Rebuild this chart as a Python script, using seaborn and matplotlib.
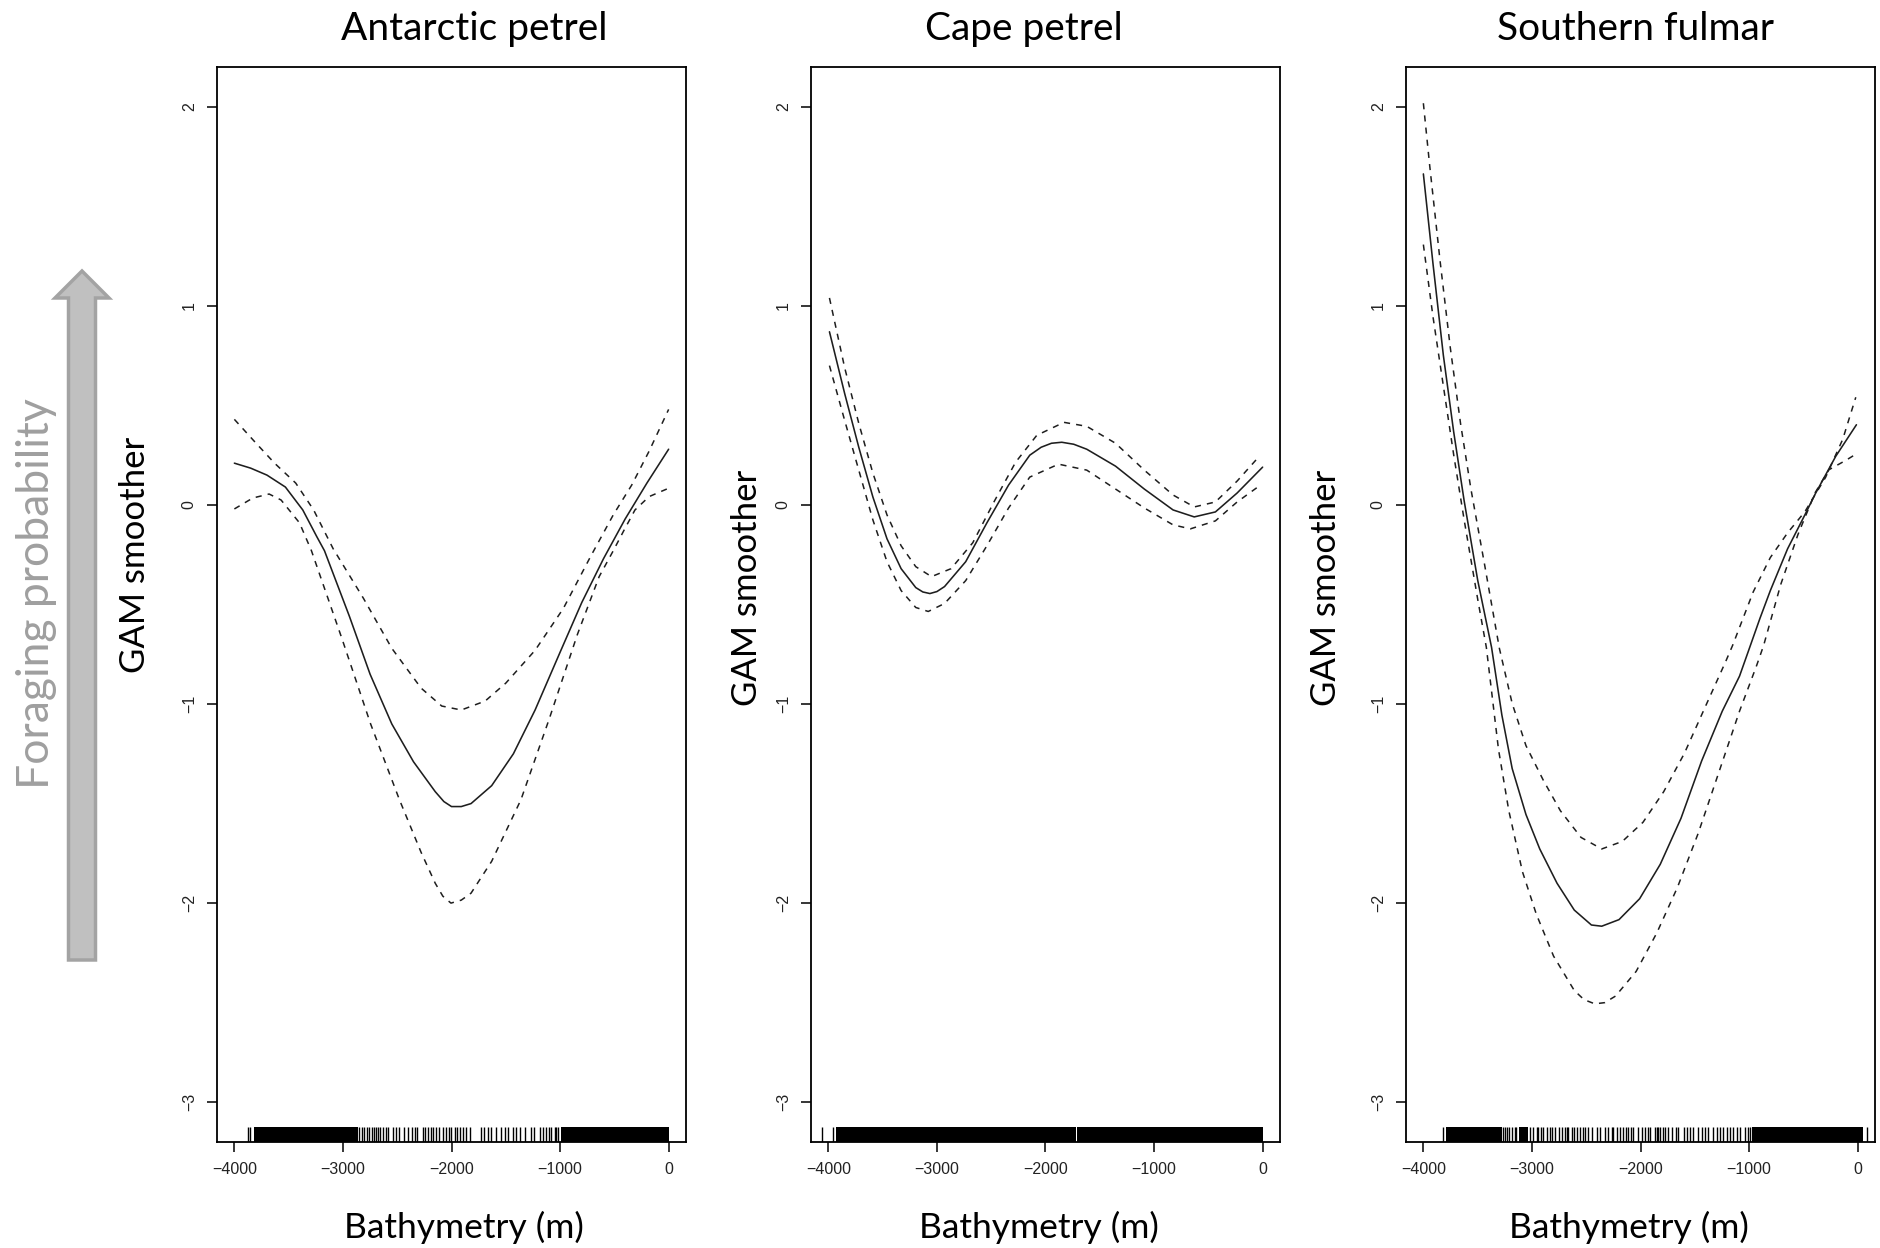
import numpy as np
import pandas as pd
import matplotlib
matplotlib.use("Agg")
import matplotlib.pyplot as plt
import seaborn as sns
from matplotlib.patches import Polygon

sns.set_theme(style="white")
plt.rcParams['font.family'] = ['Liberation Sans', 'DejaVu Sans']

# ---------------- data ----------------
species = ["Antarctic petrel", "Cape petrel", "Southern fulmar"]
x_label = "Bathymetry (m)"
y_label = "GAM smoother"
side_label = "Foraging probability"
x_ticks = [-4000, -3000, -2000, -1000, 0]
y_ticks = [-3, -2, -1, 0, 1, 2]

# Antarctic petrel
ap_fit_x = [-4000, -3850, -3700, -3530, -3370, -3240, -3170, -2940, -2750, -2550, -2350, -2150,
            -2070, -2000, -1910, -1820, -1630, -1430, -1230, -1000, -800, -600, -400, -200, 0]
ap_fit_y = [0.21, 0.185, 0.15, 0.09, -0.025, -0.16, -0.23, -0.56, -0.85, -1.10, -1.29, -1.44,
            -1.49, -1.515, -1.515, -1.50, -1.41, -1.25, -1.03, -0.74, -0.49, -0.27, -0.07, 0.11, 0.28]
ap_up_x = [-4000, -3800, -3630, -3435, -3270, -3090, -2810, -2550, -2280, -2090, -1910, -1690,
           -1500, -1230, -970, -720, -510, -340, -180, 0]
ap_up_y = [0.43, 0.31, 0.21, 0.11, -0.025, -0.22, -0.47, -0.72, -0.92, -1.01, -1.03, -0.985,
           -0.895, -0.73, -0.52, -0.26, -0.05, 0.10, 0.27, 0.48]
ap_lo_x = [-4000, -3830, -3680, -3570, -3400, -3290, -3010, -2745, -2480, -2280, -2150, -2080,
           -2005, -1910, -1820, -1630, -1360, -1100, -840, -640, -510, -410, -310, -180, 0]
ap_lo_y = [-0.02, 0.035, 0.055, 0.025, -0.09, -0.23, -0.67, -1.10, -1.48, -1.745, -1.90, -1.965,
           -2.0, -1.985, -1.95, -1.79, -1.48, -1.075, -0.65, -0.36, -0.23, -0.126, -0.025, 0.042, 0.084]
ap_rug = [-3871, -3852, -2848, -2823, -2802, -2780, -2756, -2731, -2710, -2694, -2673, -2657,
          -2633, -2602, -2581, -2541, -2510, -2479, -2439, -2402, -2363, -2338, -2320, -2258,
          -2240, -2215, -2187, -2166, -2141, -2111, -2080, -2049, -2025, -2001, -1970, -1949,
          -1924, -1893, -1869, -1826, -1725, -1703, -1664, -1633, -1587, -1541, -1510, -1480,
          -1434, -1403, -1373, -1327, -1265, -1244, -1189, -1158, -1127, -1103, -1081, -1051,
          -1035, -1020]
ap_rug_dense_start = [-3816, -990]
ap_rug_dense_end = [-2864, 0]

# Cape petrel
cp_fit_x = [-3990, -3850, -3720, -3590, -3460, -3330, -3195, -3130, -3065, -3000, -2930, -2735,
            -2540, -2340, -2145, -2040, -1945, -1850, -1740, -1620, -1355, -1090, -825, -630,
            -435, -235, 0]
cp_fit_y = [0.87, 0.56, 0.29, 0.04, -0.17, -0.32, -0.415, -0.437, -0.445, -0.435, -0.41, -0.285,
            -0.09, 0.10, 0.25, 0.29, 0.31, 0.315, 0.305, 0.28, 0.195, 0.08, -0.025, -0.06,
            -0.035, 0.06, 0.19]
cp_up_x = [-3990, -3850, -3720, -3590, -3460, -3330, -3195, -3050, -2870, -2670, -2470, -2275,
           -2080, -1830, -1620, -1355, -1090, -825, -630, -435, -235, -30]
cp_up_y = [1.04, 0.69, 0.41, 0.16, -0.05, -0.205, -0.31, -0.36, -0.32, -0.19, 0.02, 0.215,
           0.35, 0.415, 0.395, 0.31, 0.175, 0.05, -0.01, 0.015, 0.12, 0.245]
cp_lo_x = [-3990, -3850, -3720, -3590, -3460, -3330, -3195, -3080, -2930, -2735, -2540, -2340,
           -2145, -1880, -1620, -1355, -1090, -825, -665, -435, -235, -45]
cp_lo_y = [0.70, 0.425, 0.175, -0.075, -0.285, -0.43, -0.515, -0.535, -0.495, -0.38, -0.205,
           -0.015, 0.14, 0.205, 0.175, 0.08, -0.015, -0.10, -0.12, -0.08, 0.015, 0.09]
cp_rug = [-4060, -3954]
cp_rug_dense_start = [-3929, -1706]
cp_rug_dense_end = [-1720, 5]

# Southern fulmar
sf_fit_x = [-4000, -3911, -3816, -3721, -3625, -3499, -3372, -3277, -3182, -3055, -2928, -2769,
            -2610, -2452, -2357, -2198, -2008, -1818, -1627, -1437, -1247, -1088, -1010, -900,
            -804, -645, -486, -391, -201, -11]
sf_fit_y = [1.663, 1.21, 0.752, 0.368, 0.023, -0.38, -0.715, -1.055, -1.324, -1.555, -1.728,
            -1.90, -2.035, -2.11, -2.116, -2.083, -1.978, -1.805, -1.574, -1.286, -1.036, -0.86,
            -0.74, -0.57, -0.43, -0.22, -0.05, 0.055, 0.245, 0.403]
sf_up_x = [-4000, -3943, -3847, -3752, -3657, -3562, -3435, -3300, -3182, -3055, -2896, -2738,
           -2548, -2357, -2167, -1977, -1786, -1596, -1406, -1215, -1152, -962, -804, -645,
           -486, -296, -137, -17]
sf_up_y = [2.018, 1.711, 1.23, 0.79, 0.407, 0.08, -0.303, -0.72, -0.997, -1.209, -1.382, -1.536,
           -1.67, -1.728, -1.69, -1.594, -1.44, -1.248, -1.017, -0.786, -0.706, -0.437, -0.264,
           -0.14, -0.034, 0.138, 0.33, 0.541]
sf_lo_x = [-4000, -3911, -3816, -3721, -3625, -3499, -3420, -3308, -3213, -3087, -2960, -2801,
           -2610, -2520, -2421, -2330, -2230, -2040, -1850, -1659, -1469, -1279, -1088, -930,
           -866, -708, -550, -391, -264, -106, -11]
sf_lo_y = [1.308, 0.944, 0.598, 0.253, -0.073, -0.475, -0.715, -1.228, -1.536, -1.843, -2.055,
           -2.266, -2.439, -2.485, -2.506, -2.50, -2.467, -2.343, -2.15, -1.92, -1.65, -1.344,
           -1.036, -0.806, -0.706, -0.399, -0.149, 0.062, 0.177, 0.225, 0.257]
sf_rug = [-3821, -3264, -3249, -3233, -3212, -3187, -3157, -3147, -3018, -2987, -2956, -2941,
          -2916, -2895, -2864, -2833, -2818, -2787, -2751, -2726, -2695, -2680, -2665, -2634,
          -2609, -2588, -2557, -2527, -2511, -2481, -2450, -2404, -2373, -2327, -2296, -2266,
          -2250, -2220, -2189, -2158, -2137, -2112, -2088, -2066, -2020, -1990, -1959, -1934,
          -1913, -1867, -1852, -1836, -1821, -1790, -1775, -1744, -1713, -1677, -1652, -1597,
          -1575, -1545, -1514, -1468, -1437, -1407, -1376, -1330, -1299, -1268, -1238, -1207,
          -1176, -1146, -1115, -1084, -1038, -1008, -992, 82]
sf_rug_dense_start = [-3794, -3115, -977]
sf_rug_dense_end = [-3273, -3040, 50]

panels = [
    (ap_fit_x, ap_fit_y, ap_up_x, ap_up_y, ap_lo_x, ap_lo_y, ap_rug, ap_rug_dense_start, ap_rug_dense_end),
    (cp_fit_x, cp_fit_y, cp_up_x, cp_up_y, cp_lo_x, cp_lo_y, cp_rug, cp_rug_dense_start, cp_rug_dense_end),
    (sf_fit_x, sf_fit_y, sf_up_x, sf_up_y, sf_lo_x, sf_lo_y, sf_rug, sf_rug_dense_start, sf_rug_dense_end),
]

# ---------------- layout (pixels of the 1881x1248 canvas) ----------------
W, H = 1881, 1248
ax_lefts = [217, 811, 1406]
ax_w, ax_top, ax_bot = 469, 67, 1142
title_x = [474, 1024, 1636]
title_base = 40
xlab_x = [464, 1039, 1629]
xlab_base = 1238
ylab_x = [145, 757, 1336]
ylab_y = [555, 588, 588]
label_font = ['Lato', 'DejaVu Sans']
line_col = '#1e1e1e'
rug_h = 15 / (ax_bot - ax_top)

fig = plt.figure(figsize=(W / 100, H / 100), dpi=100)
fig.patch.set_facecolor('white')

for i, (ax_l, pdata) in enumerate(zip(ax_lefts, panels)):
    fx, fy, ux, uy, lx, ly, rug, ds, de = pdata
    ax = fig.add_axes([ax_l / W, 1 - ax_bot / H, ax_w / W, (ax_bot - ax_top) / H])
    ax.set_facecolor('white')
    sns.lineplot(x=fx, y=fy, ax=ax, color=line_col, lw=1.15, sort=False, estimator=None)
    sns.lineplot(x=ux, y=uy, ax=ax, color=line_col, lw=1.1, sort=False, estimator=None,
                 linestyle=(0, (4, 4)))
    sns.lineplot(x=lx, y=ly, ax=ax, color=line_col, lw=1.1, sort=False, estimator=None,
                 linestyle=(0, (4, 4)))
    sns.rugplot(x=rug, ax=ax, height=rug_h, color='black', lw=1.2, expand_margins=False)
    for s, e in zip(ds, de):
        ax.axvspan(s, e, ymin=0, ymax=rug_h, color='black', lw=0)
    ax.set_xlim(-4160, 160)
    ax.set_ylim(-3.2, 2.2)
    ax.set_xticks(x_ticks)
    ax.set_yticks(y_ticks)
    ax.set_xlabel('')
    ax.set_ylabel('')
    for sp in ax.spines.values():
        sp.set_visible(True)
        sp.set_color('black')
        sp.set_linewidth(1.3)
    ax.tick_params(axis='both', which='major', direction='out', length=7.5, width=1.1,
                   color='black', labelsize=11.5, labelcolor='#222222', pad=7,
                   left=True, bottom=True)
    ax.tick_params(axis='y', labelrotation=90)
    for lab in ax.get_yticklabels():
        lab.set_va('center')
    ax.grid(False)

    fig.text(title_x[i] / W, 1 - title_base / H, species[i], ha='center', va='baseline',
             fontsize=28, family=label_font, color='black')
    fig.text(xlab_x[i] / W, 1 - xlab_base / H, x_label, ha='center', va='baseline',
             fontsize=25.5, family=label_font, color='black')
    fig.text(ylab_x[i] / W, 1 - ylab_y[i] / H, y_label, ha='center', va='baseline',
             rotation=90, rotation_mode='anchor', fontsize=25, family=label_font, color='black')

# big grey arrow on the left
cx, tip, head_base, bottom, shaft_hw, head_hw = 82, 271, 298, 960, 13.5, 27
pts = [(cx, tip), (cx + head_hw, head_base), (cx + shaft_hw, head_base), (cx + shaft_hw, bottom),
       (cx - shaft_hw, bottom), (cx - shaft_hw, head_base), (cx - head_hw, head_base)]
pts = [(px / W, 1 - py / H) for px, py in pts]
fig.patches.append(Polygon(pts, closed=True, transform=fig.transFigure, facecolor='#c0c0c0',
                           edgecolor='#a3a3a3', lw=2.5, joinstyle='miter'))
fig.text(49 / W, 1 - 594 / H, side_label, ha='center', va='baseline', rotation=90,
         rotation_mode='anchor', fontsize=32, family=label_font, color='#9f9f9f')

fig.savefig('out.png', dpi=100, facecolor='white')
